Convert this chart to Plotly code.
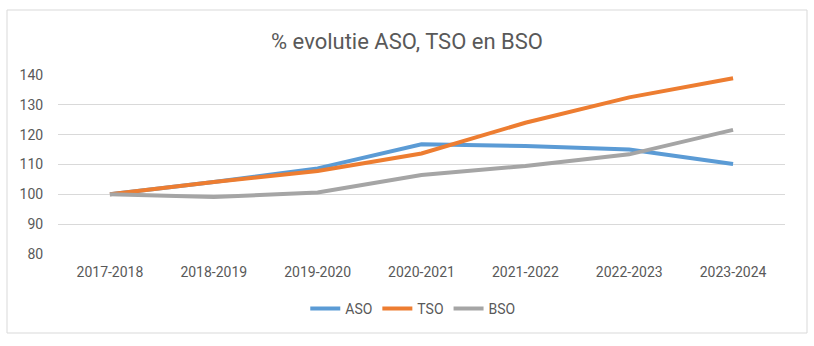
import plotly.graph_objects as go

categories = ["2017-2018", "2018-2019", "2019-2020", "2020-2021", "2021-2022", "2022-2023", "2023-2024"]
aso = [100, 104.1, 108.7, 116.8, 116.2, 115.0, 110.2]
tso = [100, 104.1, 107.8, 113.7, 124.0, 132.5, 138.9]
bso = [100, 99.1, 100.6, 106.5, 109.5, 113.4, 121.6]
y_ticks = [80, 90, 100, 110, 120, 130, 140]

FONT = "Roboto, Open Sans, sans-serif"

fig = go.Figure()
for name, vals, color in [("ASO", aso, "#5B9BD5"), ("TSO", tso, "#ED7D31"), ("BSO", bso, "#A5A5A5")]:
    fig.add_trace(go.Scatter(x=categories, y=vals, name=name, mode="lines",
                             line=dict(color=color, width=4)))

# plot area: x 58..785, y 75..254
L, R, T, B = 58, 785, 75, 254
W, H = 814, 346
pw, ph = R - L, B - T

fig.update_layout(
    width=W, height=H,
    margin=dict(l=L, r=W - R, t=T, b=H - B),
    paper_bgcolor="white", plot_bgcolor="white",
    font=dict(family=FONT, color="#595959", size=13),
    title=dict(text="% evolutie ASO, TSO en BSO", x=0.5, xanchor="center",
               y=1 - 41 / H, yanchor="middle", font=dict(size=22, color="#595959", family=FONT)),
    showlegend=True,
    legend=dict(orientation="h", x=0.488, xanchor="center", y=(B - 309) / ph, yanchor="middle",
                font=dict(size=14, color="#595959"), itemwidth=30, tracegroupgap=0),
    xaxis=dict(range=[-0.5, len(categories) - 0.5], showgrid=False, showline=False, zeroline=False,
               ticks="outside", ticklen=5,
               tickcolor="rgba(0,0,0,0)", tickfont=dict(size=14, color="#595959")),
    yaxis=dict(range=[80, 140], tickvals=y_ticks, showgrid=True, gridcolor="#D9D9D9", gridwidth=1,
               zeroline=False, showline=False, ticks="outside", ticklen=11, tickcolor="rgba(0,0,0,0)",
               tickfont=dict(size=14, color="#595959")),
    shapes=[dict(type="rect", xref="paper", yref="paper",
                 x0=(7 - L) / pw, x1=(807 - L) / pw,
                 y0=(B - 333) / ph, y1=(B - 10) / ph,
                 line=dict(color="#D9D9D9", width=1), fillcolor="rgba(0,0,0,0)", layer="below")],
)

fig.write_html("out.html")
